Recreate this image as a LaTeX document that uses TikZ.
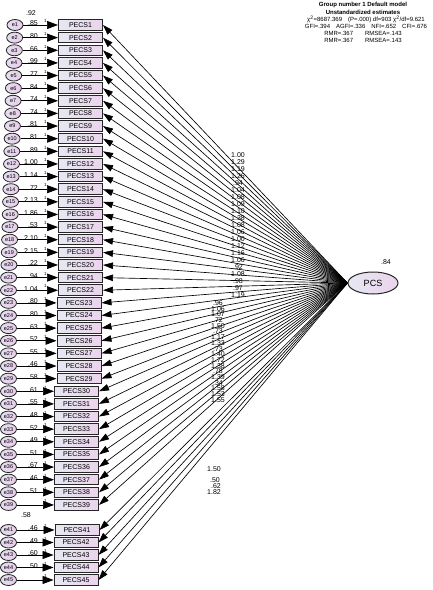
\documentclass[tikz,border=0pt]{standalone}
\usepackage{fontspec}
\setmainfont{Liberation Sans}
\usetikzlibrary{arrows.meta,shapes.geometric}
\definecolor{boxL}{HTML}{E6E8F2}
\definecolor{boxR}{HTML}{EBD3EC}
\definecolor{errL}{HTML}{E4DDF0}
\definecolor{errR}{HTML}{E9CDE9}
\begin{document}
\begin{tikzpicture}[x=1pt,y=-1pt,
  obs/.style={draw=black!85, line width=1pt, left color=boxL, right color=boxR,
    minimum width=44pt, minimum height=10.5pt, inner sep=0pt, font=\fontsize{7}{7}\selectfont},
  err/.style={ellipse, draw=black!85, line width=0.8pt, left color=errL, right color=errR,
    minimum width=16pt, minimum height=11pt, inner sep=0pt, font=\fontsize{5.5}{5.5}\selectfont},
  lat/.style={ellipse, draw=black!85, line width=1pt, left color=boxL, right color=boxR,
    minimum width=50pt, minimum height=22pt, inner sep=0pt, font=\fontsize{9}{9}\selectfont},
  arr/.style={-{Triangle[length=10pt,width=6.5pt]}, line width=0.65pt},
  earr/.style={-{Triangle[length=11pt,width=8pt]}, line width=0.7pt},
  vlab/.style={anchor=east, inner sep=0pt, font=\fontsize{7}{7}\selectfont},
  one/.style={inner sep=0pt, font=\fontsize{4.5}{4.5}\selectfont},
  wlab/.style={inner sep=0pt, font=\fontsize{7}{7}\selectfont},
  head/.style={inner sep=0pt, font=\fontsize{6}{6}\selectfont}
]
\useasboundingbox (0,0) rectangle (432,590);

% header
\node[head] (h1) at (363,5) {\textbf{Group number 1 Default model}};
\node[head] (h2) at (363,12.3) {\textbf{Unstandardized estimates}};
\node[head] (h3) at (366,19.5) {χ\textsuperscript{2}=8687.369\quad(P=.000) df=903 χ\textsuperscript{2}/df=9.621};
\node[head] (h4) at (366,26.3) {GFI=.394\quad AGFI=.336\quad NFI=.652\quad CFI=.676};
\node[head] (h5) at (363,33) {RMR=.367\qquad RMSEA=.143};
\node[head] (h6) at (363,40) {RMR=.367\qquad RMSEA=.143};

% latent
\node[lat] (pcs) at (373,283) {PCS};
\node[wlab] (pcsv) at (386,262) {.84};

% rows 1-39
\foreach \i in {1,...,39}{
  \pgfmathsetmacro\yy{25+(\i-1)*12.63}
  \pgfmathsetmacro\bx{\i<23 ? 80.5 : (\i<30 ? 79 : 76.5)}
  \pgfmathsetmacro\ex{max(8.5,15-(\i-1)*7/22)}
  \node[obs] (b\i) at (\bx,\yy) {PECS\i};
  \node[err] (e\i) at (\ex,\yy) {e\i};
  \draw[earr] (e\i) -- (b\i);
  \node[one] (o\i) at (45.5,\yy-3.8) {1};
  \draw[arr] (pcs.west) -- (b\i.east);
}
% rows 41-45
\foreach \i in {41,...,45}{
  \pgfmathsetmacro\yy{530+(\i-41)*12.5}
  \pgfmathsetmacro\bx{\i==41 ? 77 : 76}
  \node[obs] (b\i) at (\bx,\yy) {PECS\i};
  \node[err] (e\i) at (8.5,\yy) {e\i};
  \draw[earr] (e\i) -- (b\i);
  \node[one] (o\i) at (45.5,\yy-3.8) {1};
  \draw[arr] (pcs.west) -- (b\i.east);
}

% variance labels
\node[wlab] (v0) at (31,13) {.92};
\node[wlab] (v40) at (26,515) {.58};
\foreach \i/\v in {1/.85,2/.80,3/.66,4/.99,5/.77,6/.84,7/.74,8/.74,9/.81,10/.81,
  11/.89,12/1.00,13/1.14,14/.72,15/2.13,16/1.86,17/.53,18/2.10,19/2.15,20/.22,
  21/.94,22/1.04,23/.80,24/.80,25/.63,26/.52,27/.55,28/.46,29/.58,30/.61,
  31/.55,32/.48,33/.52,34/.49,35/.51,36/.67,37/.46,38/.51}{
  \pgfmathsetmacro\yy{25+(\i-1)*12.63}
  \node[vlab] (v\i) at (38,\yy-1.5) {\v};
}
\foreach \i/\v in {41/.46,42/.49,43/.60,44/.50}{
  \pgfmathsetmacro\yy{530+(\i-41)*12.5}
  \node[vlab] (v\i) at (38,\yy-1.5) {\v};
}

% loading labels (upper column)
\foreach \t [count=\n] in {1.00,1.29,1.19,1.26,.94,1.04,1.08,1.09,1.10,1.38,
  1.08,1.06,1.00,1.12,1.16,1.06,.92,1.08,.98,.97,1.19}{
  \pgfmathsetmacro\yy{155+(\n-1)*7}
  \node[wlab] (wa\n) at (238,\yy) {\t};
}
% loading labels (lower column)
\foreach \t [count=\n] in {.96,1.06,1.07,.72,1.50,.73,1.17,1.33,.73,1.40,
  1.72,1.38,.78,1.39,.34,1.58,1.53,1.55}{
  \pgfmathsetmacro\yy{303+(\n-1)*5.7}
  \node[wlab] (wb\n) at (218,\yy) {\t};
}
\node[wlab] (wc1) at (214,469) {1.50};
\node[wlab] (wc2) at (215,480) {.50};
\node[wlab] (wc3) at (216,486) {.62};
\node[wlab] (wc4) at (214,492) {1.82};
\end{tikzpicture}
\end{document}
